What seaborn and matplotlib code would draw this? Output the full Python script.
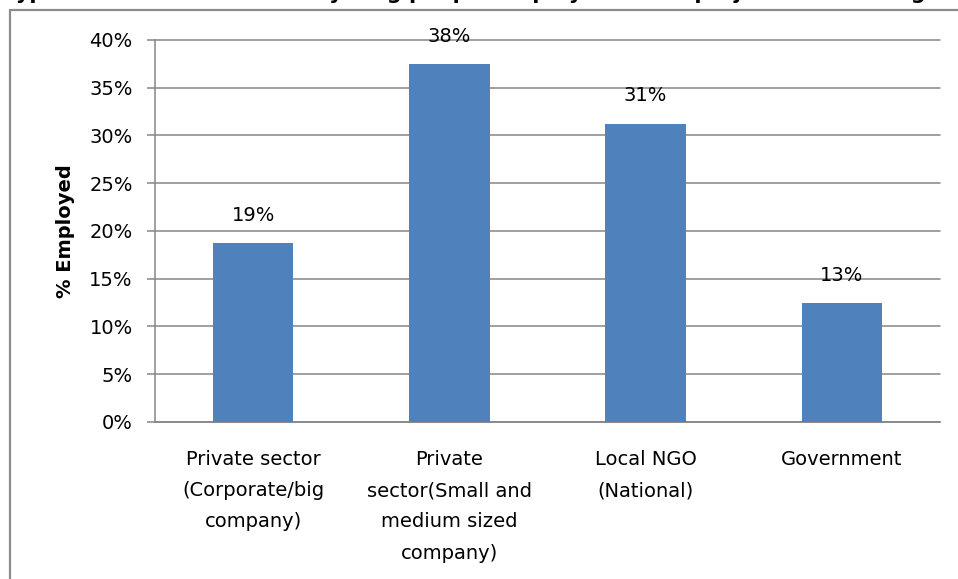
import matplotlib
matplotlib.use("Agg")
import matplotlib.pyplot as plt
import matplotlib.ticker as mticker
from matplotlib.lines import Line2D
import seaborn as sns
import pandas as pd

# Sector categories and share of young people employed in each
sectors = [
    "Private sector\n(Corporate/big\ncompany)",
    "Private\nsector(Small and\nmedium sized\ncompany)",
    "Local NGO\n(National)",
    "Government",
]
employed_share = [0.1875, 0.375, 0.3125, 0.125]
y_ticks = [0.0, 0.05, 0.10, 0.15, 0.20, 0.25, 0.30, 0.35, 0.40]
title_text = "Type of the sector in which young people employed in the project are working"
y_label = "% Employed"

sns.set_style("white")
plt.rcParams["font.family"] = ["DejaVu Sans"]
plt.rcParams["text.color"] = "black"
plt.rcParams["axes.labelcolor"] = "black"
plt.rcParams["xtick.labelcolor"] = "black"
plt.rcParams["ytick.labelcolor"] = "black"

df = pd.DataFrame({"sector": sectors, "share": employed_share})

fig = plt.figure(figsize=(9.58, 5.79), dpi=100)
ax = fig.add_axes([0.1618, 0.2712, 0.8194, 0.6598])

bar_color = "#4F81BD"
grid_color = "#868686"
fs = 14

sns.barplot(data=df, x="sector", y="share", color=bar_color, width=0.41,
            saturation=1, ax=ax, zorder=3, edgecolor=bar_color, linewidth=0)

ax.set_ylim(0, 0.40)
ax.set_xlim(-0.5, len(sectors) - 0.5)
ax.set_yticks(y_ticks)
ax.yaxis.set_major_formatter(mticker.FuncFormatter(lambda v, p: f"{int(round(v * 100))}%"))

# horizontal gridlines
ax.yaxis.grid(True, color=grid_color, linewidth=1.1, zorder=0)
ax.xaxis.grid(False)
ax.set_axisbelow(True)
for gl in ax.get_ygridlines():
    gl.set_clip_on(False)

for side in ("top", "right"):
    ax.spines[side].set_visible(False)
for side in ("left", "bottom"):
    ax.spines[side].set_color(grid_color)
    ax.spines[side].set_linewidth(1.1)

# ticks at category boundaries on x, outward ticks on y
ax.set_xticks(range(len(sectors)))
ax.set_xticks([i - 0.5 for i in range(len(sectors) + 1)], minor=True)
ax.tick_params(axis="x", which="major", length=0, pad=20, labelsize=fs, labelcolor="black")
ax.tick_params(axis="x", which="minor", length=6, width=1.1, color=grid_color, direction="out")
ax.tick_params(axis="y", which="major", length=6, width=1.1, color=grid_color,
               direction="out", pad=10, labelsize=fs, left=True, labelcolor="black")
for lbl in ax.get_xticklabels():
    lbl.set_multialignment("center")
    lbl.set_linespacing(1.82)

ax.set_xlabel("")
ax.set_ylabel(y_label, fontsize=fs, fontweight="bold", labelpad=10, color="black")

# value labels above each bar, rounded half-up to whole percent
for i, v in enumerate(employed_share):
    pct = int(v * 100 + 0.5)
    ax.annotate(f"{pct}%", xy=(i, v), xytext=(0, 13), textcoords="offset points",
                ha="center", va="bottom", fontsize=fs, color="black")

# chart frame
fig.add_artist(Line2D([10 / 958, 10 / 958], [0, 1 - 10 / 579], transform=fig.transFigure,
                      color="#8C8C8C", linewidth=1.6))
fig.add_artist(Line2D([10 / 958, 1.0], [1 - 10 / 579, 1 - 10 / 579], transform=fig.transFigure,
                      color="#8C8C8C", linewidth=1.6))

# chart title running off the top edge
fig.text(4 / 958, 1 + 1 / 579, title_text, ha="left", va="baseline",
         fontsize=15, fontweight="bold", color="black")

fig.savefig("out.png", dpi=100)
